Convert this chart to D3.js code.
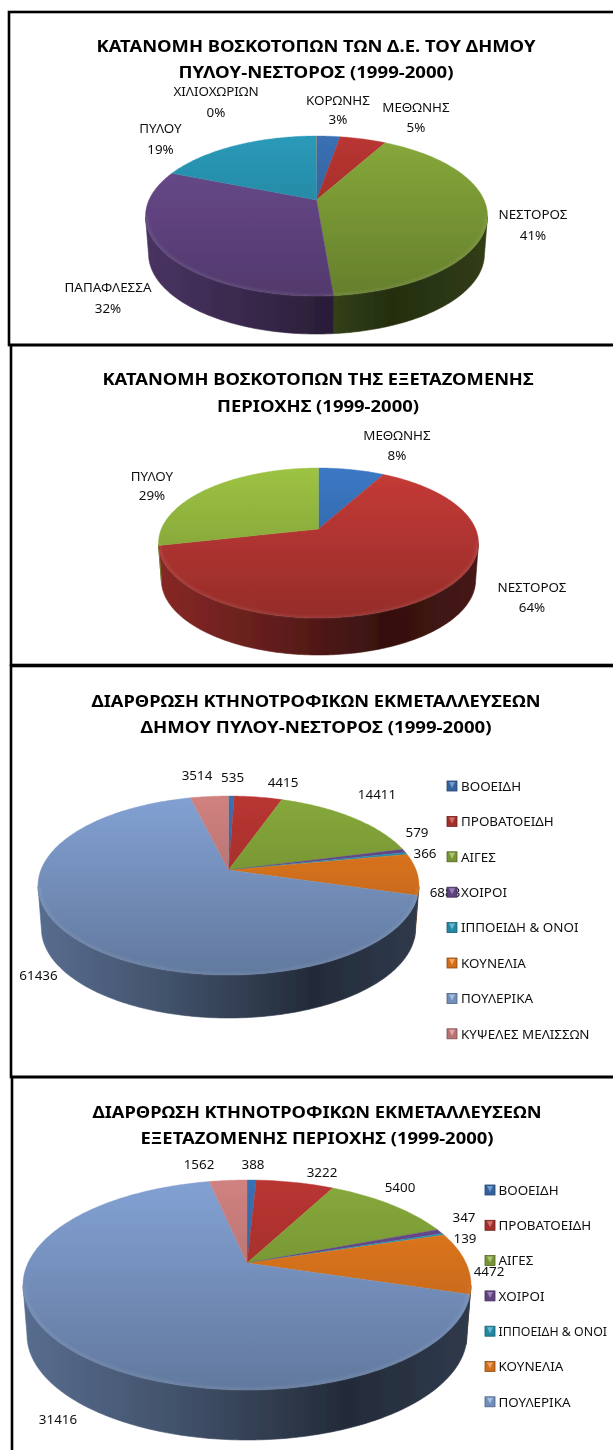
<!DOCTYPE html>
<html><head><meta charset="utf-8">
<script src="https://cdn.jsdelivr.net/npm/d3@7"></script>
<style>html,body{margin:0;padding:0;background:#fff}svg{display:block}text{font-family:"Noto Sans",sans-serif;fill:#111}</style>
</head><body><div id="c"></div>
<script>
// ---------- data ----------
const regions1 = ["ΚΟΡΩΝΗΣ","ΜΕΘΩΝΗΣ","ΝΕΣΤΟΡΟΣ","ΠΑΠΑΦΛΕΣΣΑ","ΠΥΛΟΥ","ΧΙΛΙΟΧΩΡΙΩΝ"];
const shares1 = [2.7,5.3,40.7,32.4,18.87,0.03];
const regions2 = ["ΜΕΘΩΝΗΣ","ΝΕΣΤΟΡΟΣ","ΠΥΛΟΥ"];
const shares2 = [7.98,63.51,28.51];
const livestock = ["ΒΟΟΕΙΔΗ","ΠΡΟΒΑΤΟΕΙΔΗ","ΑΙΓΕΣ","ΧΟΙΡΟΙ","ΙΠΠΟΕΙΔΗ & ΟΝΟΙ","ΚΟΥΝΕΛΙΑ","ΠΟΥΛΕΡΙΚΑ","ΚΥΨΕΛΕΣ ΜΕΛΙΣΣΩΝ"];
const farms3 = [535,4415,14411,579,366,6883,61436,3514];
const farms4 = [388,3222,5400,347,139,4472,31416,1562];
const title1 = ["ΚΑΤΑΝΟΜΗ ΒΟΣΚΟΤΟΠΩΝ ΤΩΝ Δ.Ε. ΤΟΥ ΔΗΜΟΥ","ΠΥΛΟΥ-ΝΕΣΤΟΡΟΣ (1999-2000)"];
const title2 = ["ΚΑΤΑΝΟΜΗ ΒΟΣΚΟΤΟΠΩΝ ΤΗΣ ΕΞΕΤΑΖΟΜΕΝΗΣ","ΠΕΡΙΟΧΗΣ (1999-2000)"];
const title3 = ["ΔΙΑΡΘΡΩΣΗ ΚΤΗΝΟΤΡΟΦΙΚΩΝ ΕΚΜΕΤΑΛΛΕΥΣΕΩΝ","ΔΗΜΟΥ ΠΥΛΟΥ-ΝΕΣΤΟΡΟΣ (1999-2000)"];
const title4 = ["ΔΙΑΡΘΡΩΣΗ ΚΤΗΝΟΤΡΟΦΙΚΩΝ ΕΚΜΕΤΑΛΛΕΥΣΕΩΝ","ΕΞΕΤΑΖΟΜΕΝΗΣ ΠΕΡΙΟΧΗΣ (1999-2000)"];

// ---------- styles ----------
const officeColors = ["#3a70b3","#b93531","#87a93b","#6c4c90","#2a9ab9","#ea7c1e","#82a1d3","#d08280"];
const colors2 = ["#3b78c4","#c63b37","#9dc343"];

// ---------- layout ----------
const charts = [
 {names:regions1,values:shares1,title:title1,colors:officeColors,cx:316.5,cy:216,rx:171,ry:80,apex:200,depth:38,
  titleX:316,titleY:[46,72],titleW:[439,275],
  pct:true,labels:[[338,100,119],[416,107,127],[533,214,235],[108,287,308],[160.5,128,149],[216,91,112]]},
 {names:regions2,values:shares2,title:title2,colors:colors2,cx:318.5,cy:543,rx:160,ry:75,apex:529,depth:37,
  titleX:318,titleY:[379,406],titleW:[431,202],
  pct:true,labels:[[397,435,455],[532,587,607],[152,476,495]]},
 {names:livestock,values:farms3,title:title3,colors:officeColors,cx:228.5,cy:885.5,rx:190.5,ry:89.5,apex:870,depth:43,
  titleX:316,titleY:[701,727],titleW:[449,351],
  labels:[[232.6,777],[283,782],[377,794],[417,832],[425,853],[445,892],[38.5,975],[197,775]],
  legend:{x:447,tx:461,y:786,dy:35.4,n:8}},
 {names:livestock,values:farms4,title:title4,colors:officeColors,cx:247,cy:1285,rx:224,ry:105,apex:1263,depth:50,
  titleX:317,titleY:[1112,1138],titleW:[449,353],
  labels:[[253,1164],[322,1172],[400,1187],[464,1217],[465,1238],[489,1271],[58,1419],[199,1164]],
  legend:{x:485,tx:498.5,y:1190,dy:35.3,n:7}}
];
const frames = [[9,12,345],[11,345,665],[11,666,1077],[12,1077,1500]];
const baseInset = 0.982;   // the lower rim of the drum is a little narrower (perspective)
const pageRight = 607;

const svg = d3.select("#c").append("svg").attr("width",613).attr("height",1450);
const defs = svg.append("defs");
defs.append("filter").attr("id","soft").attr("x","-5%").attr("y","-5%").attr("width","110%").attr("height","110%")
  .append("feGaussianBlur").attr("stdDeviation",0.5);
defs.append("filter").attr("id","softer").append("feGaussianBlur").attr("stdDeviation",1);
defs.append("filter").attr("id","txt").attr("filterUnits","userSpaceOnUse").attr("x",0).attr("y",0).attr("width",613).attr("height",1450)
  .append("feGaussianBlur").attr("stdDeviation",0.3);

svg.selectAll("rect.frame").data(frames).join("rect").attr("class","frame")
  .attr("x",d=>d[0]).attr("y",d=>d[1]).attr("width",800).attr("height",d=>d[2]-d[1])
  .attr("fill","none").attr("stroke","#000").attr("stroke-width",2.6);

charts.forEach((c,ci)=>{
  const g = svg.append("g");
  const sx = d3.scaleLinear().domain([-1,1]).range([c.cx-c.rx,c.cx+c.rx]);
  const sy = d3.scaleLinear().domain([-1,1]).range([c.cy-c.ry,c.cy+c.ry]);
  const a = (c.apex-c.cy)/c.ry, k = Math.sqrt(1-a*a);
  // perspective map of the unit disc: its centre lands on the apex
  const proj = (r,t)=>{const x=r*Math.sin(t),y=-r*Math.cos(t),w=1+a*y;return [k*x/w,(y+a)/w];};
  const line = d3.line().x(d=>d[0]).y(d=>d[1]);
  const arcs = d3.pie().sort(null)(c.values);
  const rim = d=>{const n=Math.max(2,Math.ceil((d.endAngle-d.startAngle)*60));
    return d3.range(n+1).map(i=>d.startAngle+(d.endAngle-d.startAngle)*i/n);};

  c.colors.forEach((col,i)=>{
    const top = defs.append("linearGradient").attr("id",`t${ci}-${i}`).attr("gradientUnits","userSpaceOnUse")
      .attr("x1",0).attr("x2",0).attr("y1",c.cy-c.ry).attr("y2",c.cy+c.ry);
    top.append("stop").attr("offset",0).attr("stop-color",col);
    top.append("stop").attr("offset",1).attr("stop-color",d3.interpolateRgb(col,"#000")(0.25));
    const side = defs.append("linearGradient").attr("id",`s${ci}-${i}`).attr("gradientUnits","userSpaceOnUse")
      .attr("x1",c.cx-c.rx).attr("x2",c.cx+c.rx).attr("y1",0).attr("y2",0);
    [[0,0.32],[0.35,0.5],[0.72,0.73],[1,0.64]].forEach(([o,t])=>
      side.append("stop").attr("offset",o).attr("stop-color",d3.interpolateRgb(col,"#000")(t)));
  });

  const pieG = g.append("g").attr("filter","url(#soft)");
  // side wall
  arcs.forEach((d,i)=>{
    const pts = rim(d).map(t=>proj(1,t)).filter(p=>p[1]>=0).map(p=>[sx(p[0]),sy(p[1])]);
    if(pts.length<2) return;
    const lower = pts.slice().reverse().map(p=>[c.cx+(p[0]-c.cx)*baseInset,p[1]+c.depth]);
    pieG.append("path").attr("d",line(pts.concat(lower))+"Z").attr("fill",`url(#s${ci}-${i})`).attr("stroke",`url(#s${ci}-${i})`).attr("stroke-width",0.6);
  });
  // top face
  arcs.forEach((d,i)=>{
    const pts = [proj(0,0)].concat(rim(d).map(t=>proj(1,t))).map(p=>[sx(p[0]),sy(p[1])]);
    const thin = d.endAngle-d.startAngle<0.005;
    pieG.append("path").attr("d",line(pts)+"Z").attr("fill",`url(#t${ci}-${i})`).attr("stroke",thin?"none":`url(#t${ci}-${i})`).attr("stroke-width",0.4);
  });
  // bevel highlight on the front rim
  const frontRim = d3.range(91,270).map(deg=>deg*Math.PI/180).map(t=>proj(0.992,t)).filter(p=>p[1]>=0).map(p=>[sx(p[0]),sy(p[1])]);
  g.append("path").attr("d",line(frontRim)).attr("fill","none").attr("stroke","#fff").attr("stroke-opacity",0.12)
    .attr("stroke-width",1.6).attr("filter","url(#softer)");

  const tg = g.append("g").attr("filter","url(#txt)");
  // titles
  c.title.forEach((t,i)=>tg.append("text").attr("x",c.titleX).attr("y",c.titleY[i]).attr("dy","0.36em")
    .attr("text-anchor","middle").attr("font-size",16.5).attr("font-weight",700).style("fill","#000")
    .attr("textLength",c.titleW[i]).attr("lengthAdjust","spacingAndGlyphs").text(t));

  // data labels
  const total = d3.sum(c.values), pct = d3.format(".0%");
  c.labels.forEach((l,i)=>{
    const lab = (txt,y)=>tg.append("text").attr("x",l[0]).attr("y",y).attr("dy","0.36em").attr("text-anchor","middle")
      .attr("font-size",13.4).text(txt);
    if(c.pct){lab(c.names[i],l[1]);lab(pct(c.values[i]/total),l[2]);}
    else lab(c.values[i],l[1]);
  });

  // legend
  if(c.legend){
    const L=c.legend;
    d3.range(L.n).forEach(i=>{
      const y=L.y+i*L.dy, col=c.colors[i];
      g.append("rect").attr("x",L.x).attr("y",y-5).attr("width",10).attr("height",10)
        .attr("fill",d3.interpolateRgb(col,"#000")(0.12)).attr("stroke",d3.interpolateRgb(col,"#000")(0.4)).attr("stroke-width",0.8);
      g.append("path").attr("d",line([[L.x+2,y-4],[L.x+8,y-4],[L.x+5,y+2]])+"Z").attr("fill",d3.interpolateRgb(col,"#fff")(0.3));
      const t=g.append("text").attr("x",L.tx).attr("y",y).attr("dy","0.36em").attr("font-size",13.4).attr("filter","url(#txt)").text(c.names[i]);
      const room=pageRight-L.tx;
      if(t.node().getComputedTextLength()>room) t.attr("font-size",13.4*room/t.node().getComputedTextLength());
    });
  }
});
</script></body></html>
